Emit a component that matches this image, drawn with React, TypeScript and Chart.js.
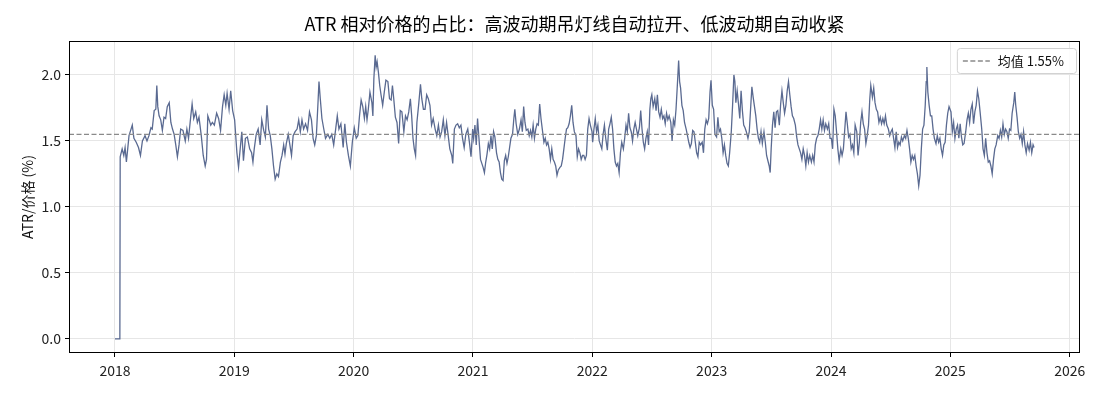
import { useEffect, useRef } from "react";
import { Chart, registerables } from "chart.js";

Chart.register(...registerables);

const TITLE = "ATR 相对价格的占比：高波动期吊灯线自动拉开、低波动期自动收紧";
const Y_LABEL = "ATR/价格 (%)";
const MEAN_LABEL = "均值 1.55%";
const MEAN_VALUE = 1.55;

const YEAR_TICKS = [2018, 2019, 2020, 2021, 2022, 2023, 2024, 2025, 2026];
const Y_TICKS = [0, 0.5, 1.0, 1.5, 2.0];

// Day-of-year positions and ATR/price (%) readings, one pair of arrays per year
const days2018 = [0, 15, 16, 22, 27, 31, 35, 39, 43, 48, 53, 58, 65, 72, 78, 84, 92, 98, 104, 110, 114, 120, 125, 128, 131, 135, 140, 145, 150, 155, 160, 166, 171, 176, 181, 186, 191, 196, 201, 208, 215, 220, 225, 232, 236, 241, 247, 252, 257, 264, 270, 276, 280, 284, 288, 293, 298, 304, 311, 317, 323, 329, 334, 339, 343, 349, 354, 360];
const atr2018 = [0, 0, 1.38, 1.44, 1.39, 1.45, 1.34, 1.44, 1.54, 1.58, 1.62, 1.52, 1.49, 1.45, 1.39, 1.50, 1.54, 1.50, 1.54, 1.60, 1.59, 1.73, 1.74, 1.92, 1.76, 1.69, 1.66, 1.58, 1.68, 1.67, 1.76, 1.79, 1.64, 1.59, 1.55, 1.47, 1.38, 1.47, 1.59, 1.58, 1.50, 1.59, 1.52, 1.69, 1.78, 1.67, 1.72, 1.64, 1.68, 1.54, 1.39, 1.31, 1.36, 1.69, 1.66, 1.62, 1.64, 1.62, 1.71, 1.67, 1.58, 1.76, 1.85, 1.77, 1.86, 1.74, 1.88, 1.73];

const days2019 = [1, 8, 13, 18, 23, 28, 34, 40, 47, 53, 57, 61, 67, 73, 79, 84, 90, 95, 100, 105, 110, 115, 120, 125, 130, 135, 141, 146, 151, 155, 159, 165, 170, 175, 180, 186, 192, 197, 202, 207, 212, 218, 224, 230, 236, 241, 246, 251, 256, 259, 263, 268, 273, 279, 286, 292, 298, 304, 310, 315, 320, 326, 333, 338, 343, 349, 355, 361];
const atr2019 = [1.66, 1.41, 1.30, 1.44, 1.57, 1.35, 1.52, 1.53, 1.44, 1.41, 1.34, 1.44, 1.55, 1.59, 1.47, 1.66, 1.58, 1.53, 1.77, 1.59, 1.54, 1.44, 1.31, 1.21, 1.25, 1.23, 1.34, 1.39, 1.47, 1.40, 1.48, 1.55, 1.47, 1.39, 1.54, 1.57, 1.59, 1.66, 1.57, 1.66, 1.59, 1.63, 1.58, 1.72, 1.66, 1.52, 1.47, 1.54, 1.79, 1.95, 1.82, 1.67, 1.60, 1.52, 1.55, 1.52, 1.55, 1.47, 1.59, 1.69, 1.59, 1.63, 1.45, 1.63, 1.49, 1.39, 1.31, 1.49];

const days2020 = [2, 8, 13, 18, 23, 28, 33, 37, 41, 45, 50, 56, 59, 62, 66, 69, 72, 76, 80, 84, 89, 94, 99, 105, 110, 115, 119, 123, 128, 133, 138, 143, 148, 154, 159, 164, 169, 174, 178, 182, 186, 190, 194, 200, 205, 209, 214, 219, 224, 229, 234, 239, 244, 250, 255, 260, 265, 270, 275, 280, 285, 290, 295, 301, 304, 309, 314, 319, 324, 329, 334, 339, 344, 350, 356, 360, 365];
const atr2020 = [1.60, 1.52, 1.54, 1.69, 1.81, 1.76, 1.67, 1.76, 1.66, 1.74, 1.87, 1.79, 1.69, 1.97, 2.15, 2.06, 2.10, 2.02, 1.92, 1.85, 1.77, 1.87, 1.96, 1.95, 1.82, 1.81, 1.92, 1.82, 1.68, 1.64, 1.48, 1.73, 1.72, 1.57, 1.69, 1.66, 1.72, 1.82, 1.69, 1.52, 1.44, 1.39, 1.64, 1.79, 1.93, 1.82, 1.74, 1.74, 1.85, 1.82, 1.77, 1.62, 1.67, 1.59, 1.54, 1.62, 1.53, 1.57, 1.66, 1.54, 1.64, 1.54, 1.44, 1.39, 1.33, 1.59, 1.62, 1.63, 1.60, 1.62, 1.52, 1.45, 1.55, 1.59, 1.47, 1.38, 1.59];

const days2021 = [2, 6, 10, 14, 18, 23, 27, 31, 35, 39, 43, 47, 51, 55, 59, 63, 67, 72, 76, 80, 84, 88, 92, 96, 100, 104, 108, 112, 116, 121, 125, 128, 132, 137, 142, 147, 151, 155, 159, 163, 168, 172, 176, 180, 184, 188, 192, 196, 200, 204, 208, 212, 217, 221, 225, 229, 233, 237, 241, 245, 249, 253, 257, 261, 266, 270, 274, 278, 282, 286, 290, 294, 298, 302, 306, 310, 315, 319, 323, 327, 331, 335, 339, 343, 347, 351, 355, 359, 364];
const atr2021 = [1.52, 1.62, 1.47, 1.67, 1.53, 1.36, 1.33, 1.30, 1.26, 1.34, 1.40, 1.48, 1.44, 1.54, 1.44, 1.57, 1.53, 1.41, 1.36, 1.34, 1.26, 1.21, 1.20, 1.35, 1.39, 1.33, 1.38, 1.45, 1.52, 1.55, 1.67, 1.74, 1.63, 1.55, 1.59, 1.66, 1.57, 1.76, 1.64, 1.58, 1.59, 1.54, 1.58, 1.53, 1.62, 1.52, 1.59, 1.63, 1.62, 1.78, 1.67, 1.59, 1.49, 1.52, 1.47, 1.49, 1.44, 1.36, 1.44, 1.36, 1.34, 1.31, 1.24, 1.28, 1.30, 1.31, 1.36, 1.44, 1.52, 1.59, 1.60, 1.63, 1.69, 1.77, 1.64, 1.57, 1.54, 1.38, 1.44, 1.41, 1.36, 1.39, 1.39, 1.36, 1.39, 1.59, 1.67, 1.62, 1.57];

const days2022 = [1, 5, 9, 13, 17, 21, 25, 29, 33, 37, 41, 46, 50, 54, 58, 62, 66, 70, 74, 78, 82, 86, 90, 95, 99, 103, 107, 111, 115, 119, 123, 127, 131, 135, 139, 144, 148, 152, 156, 160, 164, 168, 172, 176, 179, 182, 186, 191, 195, 199, 203, 207, 211, 215, 219, 223, 227, 231, 235, 240, 244, 248, 252, 256, 260, 264, 267, 270, 274, 278, 282, 287, 291, 295, 299, 303, 307, 311, 315, 319, 323, 327, 331, 336, 340, 344, 348, 352, 356, 360, 363];
const atr2022 = [1.49, 1.59, 1.67, 1.57, 1.62, 1.50, 1.47, 1.44, 1.55, 1.62, 1.52, 1.43, 1.59, 1.63, 1.68, 1.59, 1.44, 1.34, 1.31, 1.33, 1.26, 1.41, 1.49, 1.44, 1.52, 1.62, 1.57, 1.71, 1.60, 1.57, 1.50, 1.59, 1.64, 1.59, 1.54, 1.60, 1.73, 1.59, 1.49, 1.44, 1.52, 1.57, 1.47, 1.74, 1.82, 1.85, 1.76, 1.82, 1.73, 1.85, 1.72, 1.68, 1.74, 1.67, 1.69, 1.63, 1.71, 1.66, 1.69, 1.64, 1.50, 1.66, 1.62, 1.74, 1.92, 2.11, 1.95, 1.90, 1.77, 1.73, 1.64, 1.59, 1.54, 1.49, 1.45, 1.48, 1.58, 1.57, 1.49, 1.41, 1.38, 1.49, 1.47, 1.49, 1.41, 1.59, 1.66, 1.63, 1.67, 1.87, 1.96];

const days2023 = [2, 6, 10, 15, 19, 23, 27, 31, 35, 39, 43, 47, 51, 55, 60, 64, 68, 71, 74, 78, 82, 86, 90, 94, 98, 102, 106, 111, 115, 119, 123, 127, 131, 135, 139, 143, 147, 151, 155, 160, 164, 168, 172, 176, 179, 182, 186, 190, 194, 198, 202, 207, 211, 215, 219, 223, 227, 231, 235, 239, 243, 247, 251, 256, 260, 264, 268, 272, 276, 280, 284, 288, 292, 296, 300, 305, 309, 313, 317, 321, 325, 329, 333, 337, 341, 345, 349, 354, 358, 362];
const atr2023 = [1.77, 1.74, 1.55, 1.53, 1.68, 1.57, 1.59, 1.52, 1.41, 1.47, 1.39, 1.33, 1.31, 1.41, 1.57, 1.77, 2.00, 1.95, 1.79, 1.88, 1.78, 1.67, 1.88, 1.73, 1.62, 1.60, 1.57, 1.52, 1.57, 1.74, 1.91, 1.83, 1.76, 1.69, 1.59, 1.52, 1.49, 1.57, 1.48, 1.57, 1.49, 1.39, 1.35, 1.31, 1.26, 1.44, 1.62, 1.72, 1.60, 1.72, 1.73, 1.62, 1.78, 1.88, 1.79, 1.71, 1.77, 1.88, 1.95, 1.85, 1.76, 1.69, 1.67, 1.62, 1.53, 1.47, 1.44, 1.41, 1.36, 1.44, 1.39, 1.31, 1.41, 1.34, 1.39, 1.34, 1.39, 1.34, 1.47, 1.52, 1.54, 1.59, 1.66, 1.59, 1.66, 1.58, 1.63, 1.59, 1.63, 1.52];

const days2024 = [1, 5, 9, 13, 17, 21, 25, 30, 34, 38, 42, 46, 50, 54, 58, 62, 66, 70, 74, 79, 83, 87, 91, 95, 99, 103, 107, 111, 115, 119, 122, 127, 131, 135, 139, 143, 147, 151, 155, 159, 163, 167, 171, 176, 180, 184, 188, 192, 196, 200, 204, 208, 212, 216, 220, 225, 229, 233, 237, 241, 245, 249, 253, 257, 261, 265, 269, 273, 277, 281, 285, 289, 292, 294, 297, 301, 305, 309, 313, 317, 322, 326, 330, 334, 338, 342, 346, 350, 354, 358, 362];
const atr2024 = [1.52, 1.44, 1.74, 1.69, 1.57, 1.44, 1.35, 1.44, 1.39, 1.44, 1.58, 1.72, 1.63, 1.53, 1.55, 1.44, 1.47, 1.41, 1.62, 1.57, 1.39, 1.49, 1.64, 1.72, 1.63, 1.59, 1.48, 1.54, 1.62, 1.82, 1.92, 1.83, 1.90, 1.79, 1.74, 1.72, 1.64, 1.68, 1.63, 1.67, 1.63, 1.69, 1.62, 1.59, 1.54, 1.57, 1.59, 1.52, 1.45, 1.57, 1.45, 1.49, 1.47, 1.53, 1.50, 1.54, 1.52, 1.58, 1.52, 1.44, 1.34, 1.39, 1.36, 1.39, 1.31, 1.25, 1.16, 1.24, 1.44, 1.59, 1.62, 1.77, 1.95, 2.06, 1.87, 1.77, 1.69, 1.69, 1.59, 1.52, 1.48, 1.54, 1.49, 1.52, 1.44, 1.39, 1.47, 1.49, 1.62, 1.71, 1.76];

const days2025 = [2, 6, 10, 14, 18, 22, 26, 30, 34, 38, 42, 47, 51, 55, 59, 63, 67, 71, 75, 79, 83, 87, 91, 96, 100, 104, 108, 112, 116, 120, 124, 128, 132, 136, 140, 145, 149, 153, 157, 161, 165, 169, 173, 177, 181, 185, 189, 194, 197, 200, 204, 208, 212, 216, 220, 224, 228, 232, 236, 241, 245, 249, 253, 256];
const atr2025 = [1.72, 1.57, 1.64, 1.52, 1.59, 1.62, 1.52, 1.63, 1.53, 1.47, 1.48, 1.57, 1.66, 1.71, 1.64, 1.74, 1.78, 1.63, 1.72, 1.77, 1.88, 1.82, 1.72, 1.59, 1.44, 1.39, 1.52, 1.41, 1.34, 1.35, 1.31, 1.25, 1.36, 1.44, 1.47, 1.54, 1.52, 1.58, 1.53, 1.63, 1.55, 1.59, 1.57, 1.52, 1.59, 1.58, 1.71, 1.79, 1.87, 1.77, 1.68, 1.57, 1.52, 1.55, 1.48, 1.57, 1.47, 1.41, 1.48, 1.43, 1.49, 1.41, 1.47, 1.45];

const YEARS: [number, number[], number[]][] = [
  [2018, days2018, atr2018],
  [2019, days2019, atr2019],
  [2020, days2020, atr2020],
  [2021, days2021, atr2021],
  [2022, days2022, atr2022],
  [2023, days2023, atr2023],
  [2024, days2024, atr2024],
  [2025, days2025, atr2025],
];

const FONT = '"Noto Sans CJK SC", "Noto Sans", sans-serif';
const LINE_COLOR = "#5a6a91";
const MEAN_COLOR = "#8a8a8a";

function yearLength(y: number) {
  return (y % 4 === 0 && y % 100 !== 0) || y % 400 === 0 ? 366 : 365;
}

function buildSeries() {
  const pts: { x: number; y: number }[] = [];
  for (const [year, days, vals] of YEARS) {
    const n = Math.min(days.length, vals.length);
    for (let i = 0; i < n; i++) {
      pts.push({ x: year + days[i] / yearLength(year), y: vals[i] });
    }
  }
  return pts;
}

const decorPlugin = {
  id: "decor",
  afterDraw(chart: any) {
    const { ctx, chartArea: a } = chart;
    ctx.save();

    // axes frame
    ctx.strokeStyle = "#000";
    ctx.lineWidth = 1;
    ctx.strokeRect(Math.round(a.left) + 0.5, Math.round(a.top) + 0.5, Math.round(a.right - a.left) - 1, Math.round(a.bottom - a.top) - 1);

    // title
    ctx.fillStyle = "#000";
    ctx.font = `18px ${FONT}`;
    ctx.textAlign = "center";
    ctx.textBaseline = "middle";
    ctx.fillText(TITLE, (a.left + a.right) / 2, 24);

    // y axis title
    ctx.save();
    ctx.translate(28, (a.top + a.bottom) / 2);
    ctx.rotate(-Math.PI / 2);
    ctx.font = `14px ${FONT}`;
    ctx.fillStyle = "#111";
    ctx.fillText(Y_LABEL, 0, 0);
    ctx.restore();

    // legend box
    ctx.font = `13px ${FONT}`;
    const tw = ctx.measureText(MEAN_LABEL).width;
    const bw = 41 + tw + 12;
    const bh = 25;
    const bx = a.right - 4 - bw;
    const by = a.top + 7;
    ctx.beginPath();
    ctx.roundRect(bx + 0.5, by + 0.5, bw, bh, 3);
    ctx.fillStyle = "rgba(255,255,255,0.85)";
    ctx.fill();
    ctx.strokeStyle = "#d2d2d2";
    ctx.stroke();

    const cy = by + bh / 2 + 0.5;
    ctx.beginPath();
    ctx.setLineDash([5, 2.5]);
    ctx.strokeStyle = MEAN_COLOR;
    ctx.lineWidth = 1.3;
    ctx.moveTo(bx + 6, cy);
    ctx.lineTo(bx + 33, cy);
    ctx.stroke();
    ctx.setLineDash([]);

    ctx.fillStyle = "#111";
    ctx.textAlign = "left";
    ctx.fillText(MEAN_LABEL, bx + 41, cy);
    ctx.restore();
  },
};

export default function App() {
  const ref = useRef<HTMLCanvasElement | null>(null);

  useEffect(() => {
    if (!ref.current) return;
    const series = buildSeries();
    const xs = series.map((p) => p.x);
    const ys = series.map((p) => p.y);
    const x0 = Math.min(...xs);
    const x1 = Math.max(...xs);
    const y0 = Math.min(...ys);
    const y1 = Math.max(...ys);
    const xMin = x0 - (x1 - x0) * 0.05;
    const xMax = x1 + (x1 - x0) * 0.05;
    const yMin = y0 - (y1 - y0) * 0.05;
    const yMax = y1 + (y1 - y0) * 0.05;

    const chart = new Chart(ref.current, {
      type: "line",
      data: {
        datasets: [
          {
            label: MEAN_LABEL,
            data: [
              { x: xMin, y: MEAN_VALUE },
              { x: xMax, y: MEAN_VALUE },
            ],
            borderColor: MEAN_COLOR,
            borderWidth: 1.3,
            borderDash: [5, 2.5],
            pointRadius: 0,
            order: 0,
          },
          {
            label: "ATR/价格",
            data: series,
            borderColor: LINE_COLOR,
            borderWidth: 1.3,
            pointRadius: 0,
            tension: 0,
            order: 1,
          },
        ],
      },
      options: {
        animation: false,
        responsive: true,
        maintainAspectRatio: false,
        devicePixelRatio: 1,
        events: [],
        layout: { padding: { top: 41, right: 20, left: 0, bottom: 0 } },
        plugins: {
          legend: { display: false },
          tooltip: { enabled: false },
          title: { display: false },
        },
        scales: {
          x: {
            type: "linear",
            min: xMin,
            max: xMax,
            afterFit: (s: any) => {
              s.height = 43;
            },
            afterBuildTicks: (s: any) => {
              s.ticks = YEAR_TICKS.map((v) => ({ value: v }));
            },
            ticks: {
              autoSkip: false,
              maxRotation: 0,
              padding: 5,
              color: "#222",
              font: { family: FONT, size: 14 },
              callback: (v: any) => String(v),
            },
            grid: { color: "#e6e6e6", lineWidth: 1, tickColor: "#000", tickLength: 4 },
            border: { display: false },
          },
          y: {
            type: "linear",
            min: yMin,
            max: yMax,
            afterFit: (s: any) => {
              s.width = 69;
            },
            afterBuildTicks: (s: any) => {
              s.ticks = Y_TICKS.map((v) => ({ value: v }));
            },
            ticks: {
              padding: 4,
              color: "#222",
              font: { family: FONT, size: 14 },
              callback: (v: any) => Number(v).toFixed(1),
            },
            grid: { color: "#e6e6e6", lineWidth: 1, tickColor: "#000", tickLength: 4 },
            border: { display: false },
          },
        },
      },
      plugins: [decorPlugin],
    });
    return () => chart.destroy();
  }, []);

  return (
    <div style={{ position: "fixed", left: 0, top: 0, width: 1100, height: 396, background: "#fff" }}>
      <canvas ref={ref} />
    </div>
  );
}
